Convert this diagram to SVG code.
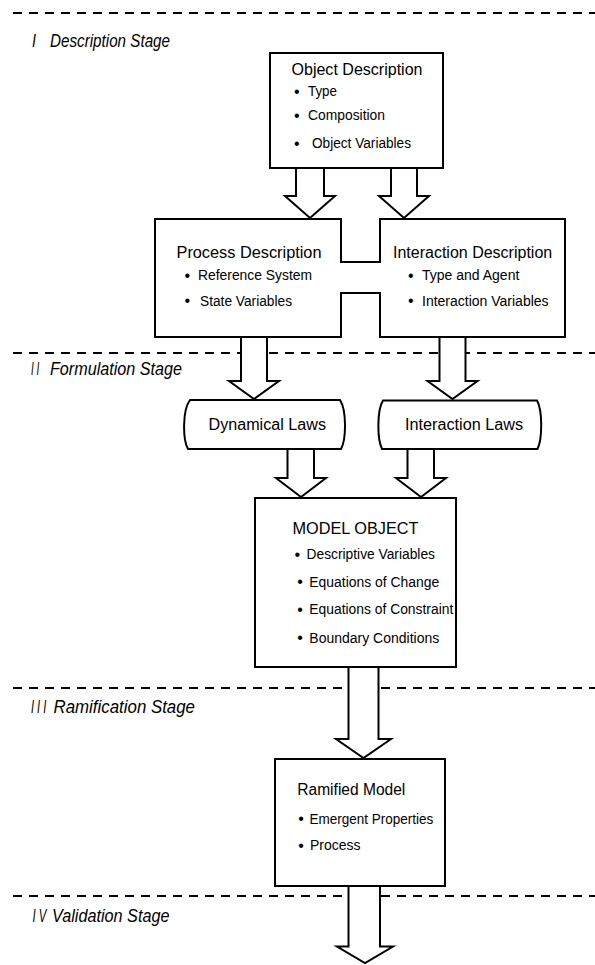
<svg xmlns="http://www.w3.org/2000/svg" width="595" height="965" viewBox="0 0 595 965">
<style>
.dash{stroke:#000;stroke-width:2;stroke-dasharray:9 7;fill:none}
.box{fill:#fff;stroke:#000;stroke-width:2}
.arrow{fill:#fff;stroke:#000;stroke-width:2;stroke-linejoin:miter}
text{font-family:"Liberation Sans",Arial,Helvetica,sans-serif;fill:#000}
.stage{font-style:italic;font-size:19px}
.h{font-size:16px}
.b{font-size:14px}
.dot{font-size:16px}
</style>
<rect x="0" y="0" width="595" height="965" fill="#fff"/>
<g id="stage-lines">
<line class="dash" x1="13" y1="13" x2="595" y2="13"/>
<line class="dash" x1="13" y1="353" x2="595" y2="353"/>
<line class="dash" x1="13" y1="688" x2="595" y2="688"/>
<line class="dash" x1="13" y1="896" x2="595" y2="896"/>
</g>
<g id="stage-labels">
<text class="stage" transform="translate(32,47) scale(0.75,1)">I</text>
<text class="stage" x="50" y="47" textLength="120" lengthAdjust="spacingAndGlyphs">Description Stage</text>
<text class="stage" transform="translate(31,375) scale(0.52,1)">I I</text>
<text class="stage" x="50" y="375" textLength="132" lengthAdjust="spacingAndGlyphs">Formulation Stage</text>
<text class="stage" transform="translate(31,713) scale(0.58,1)">I I I</text>
<text class="stage" x="53.5" y="713" textLength="141.5" lengthAdjust="spacingAndGlyphs">Ramification Stage</text>
<text class="stage" transform="translate(32.5,922) scale(0.6,1)">I V</text>
<text class="stage" x="52" y="922" textLength="117.5" lengthAdjust="spacingAndGlyphs">Validation Stage</text>
</g>
<g id="connectors">
<path class="arrow" d="M296,168 V196 H285 L310,218 L335,196 H324 V168"/>
<path class="arrow" d="M391,168 V196 H379 L404,218 L429,196 H417 V168"/>
<path class="arrow" d="M241,337 V381 H229 L254,399 L279,381 H267 V337"/>
<path class="arrow" d="M439.5,337 V381 H427.5 L452.5,399 L477.5,381 H465.5 V337"/>
<path class="arrow" d="M287.5,449 V478 H276 L301,497 L326,478 H314 V449"/>
<path class="arrow" d="M407.5,449 V478 H396 L421,497 L446,478 H434 V449"/>
<path class="arrow" d="M348.5,667 V739 H336 L363.5,758 L391,739 H378.5 V667"/>
<path class="arrow" d="M348.5,886 V946.5 H337 L365,963 L393,946.5 H380 V886"/>
</g>
<g id="object-description">
<rect class="box" x="270" y="53" width="173" height="115"/>
<text class="h" x="291.5" y="75" textLength="131" lengthAdjust="spacingAndGlyphs">Object Description</text>
<text class="dot" x="293.9" y="96.5">•</text><text class="b" x="308" y="96" textLength="29" lengthAdjust="spacingAndGlyphs">Type</text>
<text class="dot" x="293.9" y="120.5">•</text><text class="b" x="308" y="120" textLength="77" lengthAdjust="spacingAndGlyphs">Composition</text>
<text class="dot" x="293.9" y="148.8">•</text><text class="b" x="312" y="148" textLength="99" lengthAdjust="spacingAndGlyphs">Object Variables</text>
</g>
<g id="description-pair">
<path class="box" d="M155,219 H341 V262 H380 V219 H565 V337 H380 V293 H341 V337 H155 Z"/>
<g id="process-description">
<text class="h" x="176.5" y="258" textLength="145" lengthAdjust="spacingAndGlyphs">Process Description</text>
<text class="dot" x="184.5" y="280.5">•</text><text class="b" x="198" y="280" textLength="114" lengthAdjust="spacingAndGlyphs">Reference System</text>
<text class="dot" x="184.5" y="306">•</text><text class="b" x="200" y="305.5" textLength="92" lengthAdjust="spacingAndGlyphs">State Variables</text>
</g>
<g id="interaction-description">
<text class="h" x="393" y="258">Interaction Description</text>
<text class="dot" x="407.9" y="280.5">•</text><text class="b" x="422" y="280">Type and Agent</text>
<text class="dot" x="407.9" y="306">•</text><text class="b" x="422" y="305.5">Interaction Variables</text>
</g>
</g>
<g id="dynamical-laws">
<path class="box" d="M190,400 H340 C346.5,410 346.5,439 341,449 H188 C182.5,439 182.5,410 190,400 Z"/>
<text class="h" x="208.5" y="430" textLength="117.5" lengthAdjust="spacingAndGlyphs">Dynamical Laws</text>
</g>
<g id="interaction-laws">
<path class="box" d="M383,400.5 H537 C542.5,410 542.5,439 537.5,449 H382 C377,439 377,410 383,400.5 Z"/>
<text class="h" x="405" y="430" textLength="118" lengthAdjust="spacingAndGlyphs">Interaction Laws</text>
</g>
<g id="model-object">
<rect class="box" x="255" y="498" width="201" height="169"/>
<text class="h" x="292.5" y="534" textLength="126" lengthAdjust="spacingAndGlyphs">MODEL OBJECT</text>
<text class="dot" x="294.5" y="559.5">•</text><text class="b" x="306.5" y="559" textLength="128.5" lengthAdjust="spacingAndGlyphs">Descriptive Variables</text>
<text class="dot" x="297.2" y="587">•</text><text class="b" x="309.3" y="586.5" textLength="130" lengthAdjust="spacingAndGlyphs">Equations of Change</text>
<text class="dot" x="297.2" y="614.8">•</text><text class="b" x="309.3" y="614.3" textLength="144" lengthAdjust="spacingAndGlyphs">Equations of Constraint</text>
<text class="dot" x="297.2" y="643">•</text><text class="b" x="309.3" y="642.5" textLength="130" lengthAdjust="spacingAndGlyphs">Boundary Conditions</text>
</g>
<g id="ramified-model">
<rect class="box" x="275" y="759" width="170" height="127"/>
<text class="h" x="297.3" y="795" textLength="108" lengthAdjust="spacingAndGlyphs">Ramified Model</text>
<text class="dot" x="298.2" y="824">•</text><text class="b" x="309.4" y="823.5" textLength="124" lengthAdjust="spacingAndGlyphs">Emergent Properties</text>
<text class="dot" x="298.2" y="850.5">•</text><text class="b" x="310" y="850">Process</text>
</g>
</svg>
